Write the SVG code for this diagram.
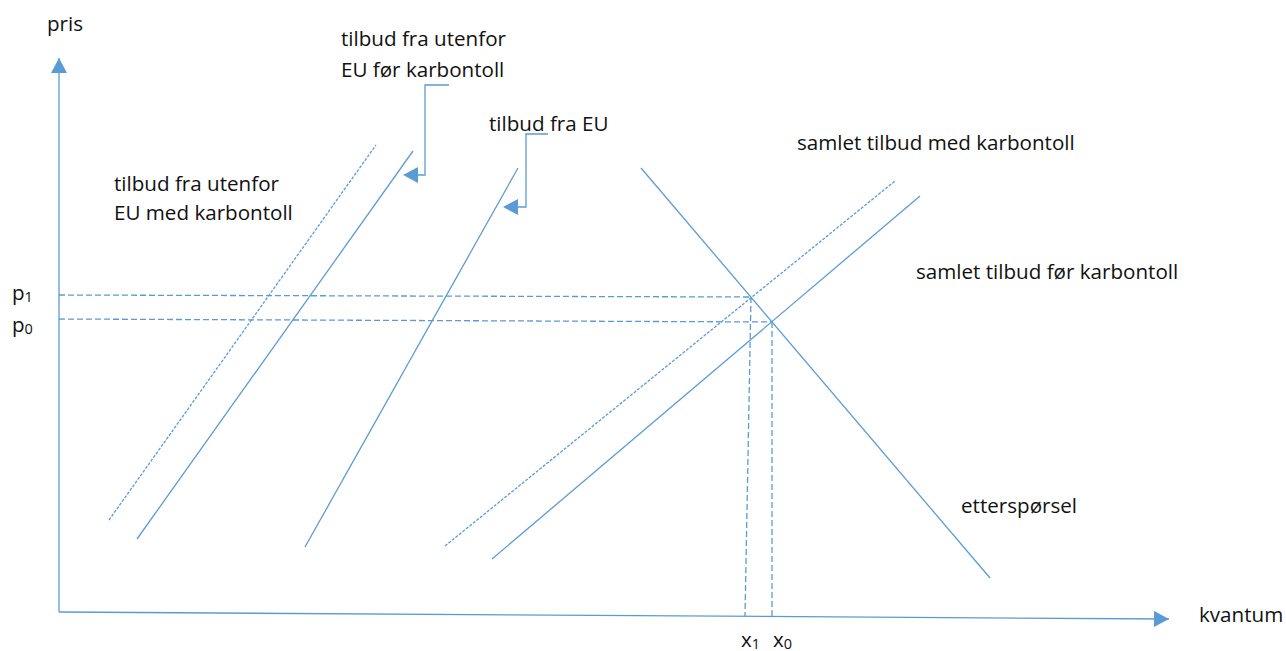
<svg xmlns="http://www.w3.org/2000/svg" width="1286" height="651" viewBox="0 0 1286 651">
<style>
text{font-family:"Open Sans","Liberation Sans",sans-serif;font-size:20.6px;fill:#111}
.sub{font-size:14.5px}
.ln{stroke:#5B9BD5;stroke-width:1.3;fill:none}
.dash{stroke-dasharray:6 3}
.fine{stroke-dasharray:3 1.5}
.ah{fill:#5B9BD5}
</style>
<defs>
<marker id="ah" markerWidth="16" markerHeight="16" refX="15" refY="8" orient="auto" markerUnits="userSpaceOnUse">
<path d="M0,0 L15,8 L0,16 Z" fill="#5B9BD5"/>
</marker>
</defs>
<rect width="1286" height="651" fill="#fff"/>
<g id="axes">
<line class="ln" x1="59" y1="612" x2="59" y2="58" marker-end="url(#ah)"/>
<line class="ln" x1="59" y1="612" x2="1169" y2="619" marker-end="url(#ah)"/>
<text x="47" y="31">pris</text>
<text x="1199" y="622">kvantum</text>
</g>
<g id="connectors">
<line class="ln dash" x1="59" y1="295" x2="751" y2="297"/>
<line class="ln dash" x1="59" y1="319" x2="773" y2="322"/>
<line class="ln dash" x1="751" y1="297" x2="745" y2="616"/>
<line class="ln dash" x1="772" y1="322" x2="772" y2="617"/>
<polyline class="ln" points="449,85 425,85 425,175 416,175"/>
<path class="ah" d="M403,175 L418,167 L418,183 Z"/>
<polyline class="ln" points="548,134 526,134 526,207 517,207"/>
<path class="ah" d="M503,207 L518,199 L518,215 Z"/>
</g>
<g id="supply-outside-with-tariff">
<line class="ln fine" x1="109" y1="520" x2="376" y2="145"/>
</g>
<g id="supply-outside-before-tariff">
<line class="ln" x1="137" y1="539" x2="413" y2="151"/>
</g>
<g id="supply-eu">
<line class="ln" x1="305" y1="547" x2="518" y2="168"/>
</g>
<g id="demand">
<line class="ln" x1="641" y1="168" x2="990" y2="578"/>
</g>
<g id="total-with-tariff">
<line class="ln fine" x1="445" y1="546" x2="895" y2="181"/>
</g>
<g id="total-before-tariff">
<line class="ln" x1="492" y1="559" x2="920" y2="196"/>
</g>
<g id="labels">
<text x="341" y="46">tilbud fra utenfor</text>
<text x="341" y="77">EU før karbontoll</text>
<text x="489" y="131">tilbud fra EU</text>
<text x="114" y="191">tilbud fra utenfor</text>
<text x="114" y="220">EU med karbontoll</text>
<text x="797" y="150">samlet tilbud med karbontoll</text>
<text x="916" y="279">samlet tilbud før karbontoll</text>
<text x="961" y="513">etterspørsel</text>
<text x="12" y="300">p<tspan class="sub" dy="2">1</tspan></text>
<text x="12" y="332">p<tspan class="sub" dy="2">0</tspan></text>
<text x="741" y="647">x<tspan class="sub" dy="2">1</tspan></text>
<text x="773" y="647">x<tspan class="sub" dy="2">0</tspan></text>
</g>
</svg>
